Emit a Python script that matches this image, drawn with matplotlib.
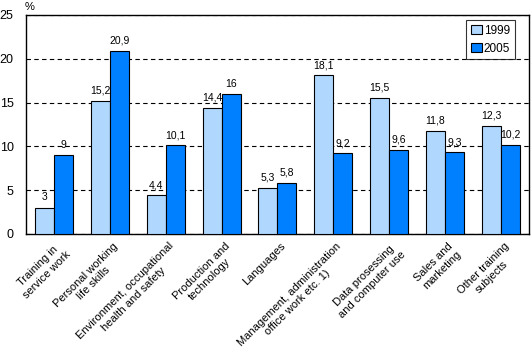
import numpy as np
import matplotlib.pyplot as plt

plt.rcParams['font.family'] = ['Liberation Sans', 'DejaVu Sans']

categories = ["Training in\nservice work", "Personal working\nlife skills",
              "Environment, occupational\nhealth and safety", "Production and\ntechnology",
              "Languages", "Management, administration\noffice work etc. 1)",
              "Data prosessing\nand computer use", "Sales and\nmarketing",
              "Other training\nsubjects"]
v1999 = [3, 15.2, 4.4, 14.4, 5.3, 18.1, 15.5, 11.8, 12.3]
v2005 = [9, 20.9, 10.1, 16, 5.8, 9.2, 9.6, 9.3, 10.2]

fig = plt.figure(figsize=(5.32, 3.55), dpi=100)
ax = fig.add_axes([0.049, 0.341, 0.945, 0.617])

x = np.arange(len(categories))
w = 0.34
b1 = ax.bar(x - w / 2, v1999, w, color='#b0d8ff', edgecolor='black', linewidth=0.8, label='1999', zorder=3)
b2 = ax.bar(x + w / 2, v2005, w, color='#0080ff', edgecolor='black', linewidth=0.8, label='2005', zorder=3)

def fmt(v):
    return ('%g' % v).replace('.', ',')

for bars, vals in [(b1, v1999), (b2, v2005)]:
    for r, v in zip(bars, vals):
        ax.text(r.get_x() + r.get_width() / 2, v + 0.6, fmt(v), ha='center', va='bottom', fontsize=7.5)

ax.set_xlim(-0.5, len(categories) - 0.5)
ax.set_ylim(0, 25)
ax.set_yticks([0, 5, 10, 15, 20, 25])
ax.tick_params(axis='y', length=0, labelsize=9, pad=9)
ax.tick_params(axis='x', length=0, pad=5)
ax.set_xticks(x + 0.05)
ax.set_xticklabels(categories, rotation=45, ha='right', va='top', rotation_mode='anchor',
                   multialignment='center', fontsize=8)
for s in ax.spines.values():
    s.set_linewidth(1)
ax.yaxis.grid(True, linestyle=(0, (4, 3)), color='black', linewidth=0.8)
ax.annotate('%', xy=(0, 1), xycoords='axes fraction', xytext=(-1, 2), textcoords='offset points',
            fontsize=8, ha='left', va='bottom')

leg = ax.legend(loc='upper right', bbox_to_anchor=(0.972, 0.977), borderaxespad=0, fontsize=8.5,
                frameon=True, fancybox=False, edgecolor='black', handlelength=1.0, handleheight=0.7,
                handletextpad=0.1, borderpad=0.4, labelspacing=0.5)
leg.get_frame().set_linewidth(0.8)

fig.savefig('out.png', dpi=100)
